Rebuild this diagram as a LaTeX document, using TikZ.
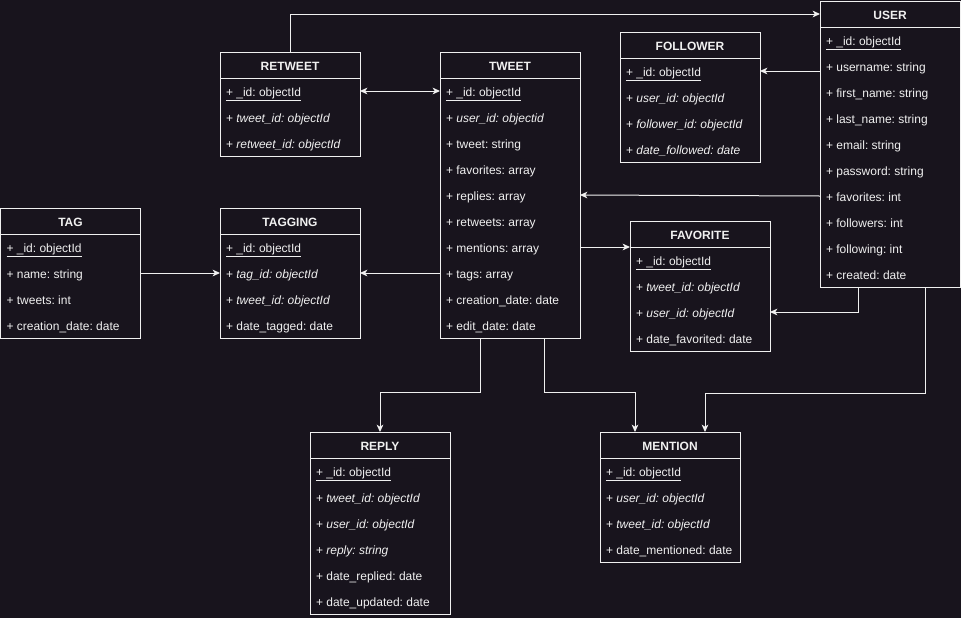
\documentclass[tikz,border=0pt]{standalone}
\usepackage{fontspec}
\setmainfont{Liberation Sans}
\frenchspacing
\usetikzlibrary{arrows.meta,calc}
\definecolor{bg}{HTML}{18141D}
\definecolor{ink}{HTML}{F0F0F0}
\tikzset{
  hdr/.style={draw=ink, line width=0.75pt, anchor=north west, minimum width=105pt,
    minimum height=19.5pt, inner sep=0pt, outer sep=0pt,
    text height=8pt, text depth=0.5pt,
    font=\fontsize{9}{11}\selectfont\bfseries, text=ink},
  row/.style={anchor=north, minimum height=19.5pt, minimum width=105pt, inner xsep=4.5pt,
    inner ysep=0pt, outer sep=0pt, text height=8pt, text depth=0.5pt,
    font=\fontsize{9}{11}\selectfont, text=ink},
  body/.style={draw=ink, line width=0.75pt},
  tip/.tip={Stealth[length=5.5pt,width=5pt,inset=1.5pt]},
  conn/.style={draw=ink, line width=0.75pt, -tip},
  biconn/.style={draw=ink, line width=0.75pt, tip-tip},
}
% primary key row and italic foreign key rows
\newcommand\pk{\underline{+ \_id: objectId}}
\newcommand\fk[1]{+ \textit{#1}}
% entity table: name, left x, top y, title, comma separated rows
\newcommand\ertable[5]{%
  \node[hdr] (#1) at (#2,#3) {#4};
  \foreach \rowtxt [count=\i, remember=\i as \p (initially 0)] in {#5}{%
    \ifnum\i=1 \node[row] (#1-\i) at (#1.south) {\makebox[96pt][l]{\rowtxt}};%
    \else \node[row] (#1-\i) at (#1-\p.south) {\makebox[96pt][l]{\rowtxt}};\fi
    \xdef\lastrow{#1-\i}%
  }%
  \draw[body] (#1.south west) rectangle (\lastrow.south east);
}
\begin{document}
\begin{tikzpicture}[x=0.75pt,y=-0.75pt]
\fill[bg] (0,0) rectangle (961,618);
\useasboundingbox (0,0) rectangle (961,618);

\ertable{retweet}{220}{52}{RETWEET}{\pk, \fk{tweet\_id: objectId}, \fk{retweet\_id: objectId}}
\ertable{tweet}{440}{52}{TWEET}{\pk, \fk{user\_id: objectid}, + tweet: string, + favorites: array,
  + replies: array, + retweets: array, + mentions: array, + tags: array,
  + creation\_date: date, + edit\_date: date}
\ertable{follower}{620}{32}{FOLLOWER}{\pk, \fk{user\_id: objectId}, \fk{follower\_id: objectId},
  \fk{date\_followed: date}}
\ertable{user}{820}{1}{USER}{\pk, + username: string, + first\_name: string, + last\_name: string,
  + email: string, + password: string, + favorites: int, + followers: int, + following: int,
  + created: date}
\ertable{tag}{0.5}{208}{TAG}{\pk, + name: string, + tweets: int, + creation\_date: date}
\ertable{tagging}{220}{208}{TAGGING}{\pk, \fk{tag\_id: objectId}, \fk{tweet\_id: objectId},
  + date\_tagged: date}
\ertable{favorite}{630}{221}{FAVORITE}{\pk, \fk{tweet\_id: objectId}, \fk{user\_id: objectId},
  + date\_favorited: date}
\ertable{reply}{310}{432}{REPLY}{\pk, \fk{tweet\_id: objectId}, \fk{user\_id: objectId},
  \fk{reply: string}, + date\_replied: date, + date\_updated: date}
\ertable{mention}{600}{432}{MENTION}{\pk, \fk{user\_id: objectId}, \fk{tweet\_id: objectId},
  + date\_mentioned: date}

% relationships
\draw[conn] (retweet.north) |- (user.west);
\draw[biconn] (retweet-1.east) -- (tweet-1.west);
\draw[conn] (user.west |- follower-1.east) -- (follower-1.east);
\draw[conn] (user-7.west) -- (tweet-5.east);
\draw[conn] (tweet-7.east) -- (tweet-7.east -| favorite.west);
\draw[conn] ($(user-10.south west)+(38,0)$) |- (favorite-3.east);
\draw[conn] (tag-2.east) -- (tagging-2.west);
\draw[conn] (tweet-8.west) -- (tagging-2.east);
\draw[conn] ($(tweet-10.south west)+(40,0)$) -- ++(0,54) -| (reply.north);
\draw[conn] ($(tweet-10.south west)+(104,0)$) -- ++(0,54) -| ($(mention.north west)+(35,0)$);
\draw[conn] ($(user-10.south west)+(105,0)$) -- ++(0,106) -| ($(mention.north west)+(105,0)$);
\end{tikzpicture}
\end{document}
